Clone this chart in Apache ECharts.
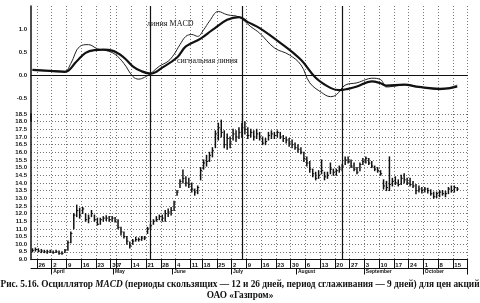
<!DOCTYPE html>
<html><head><meta charset="utf-8">
<script src="https://cdn.jsdelivr.net/npm/echarts/dist/echarts.min.js"></script>
<style>html,body{margin:0;padding:0;background:#fff}#c{width:480px;height:303px}</style>
</head><body><div id="c"></div>
<script>
// Calendar (trading days)
const startDate = '2001-03-22', endDate = '2001-10-19';
const holidays = ['2001-05-01','2001-05-02','2001-05-03','2001-06-12'];
const monthNames = ['January','February','March','April','May','June','July','August','September','October','November','December'];
const yTicksMacd = [-0.5, 0, 0.5, 1.0];

// Price bars (low / high / close), one per trading day
const priceLow = [9.5,9.55,9.5,9.45,9.45,9.4,9.45,9.4,9.45,9.35,9.35,9.45,
 9.6,10.1,11.0,11.8,11.7,12.0,11.5,11.4,11.8,11.5,11.25,11.3,11.5,11.55,11.5,11.5,11.45,11.0,
 10.6,10.4,10.0,9.75,10.0,10.2,10.2,10.25,10.3,10.7,
 11.0,11.3,11.5,11.6,11.5,11.5,11.8,11.9,12.2,13.2,
 13.7,14.0,13.8,13.7,13.4,13.2,13.3,14.2,14.9,15.1,
 15.4,15.7,16.3,16.8,17.0,16.3,16.2,16.3,16.8,16.7,
 16.9,17.0,17.2,16.9,17.0,16.8,16.9,16.8,16.5,16.5,
 16.8,16.9,16.9,17.0,16.9,16.7,16.6,16.4,16.3,16.2,
 16.0,15.9,15.4,15.1,14.7,14.4,14.2,14.3,14.6,14.2,
 14.3,14.6,14.5,14.5,14.7,14.8,15.2,15.3,15.0,14.8,
 14.6,14.8,15.2,15.3,15.2,15.0,14.8,14.7,14.5,13.6,
 13.5,13.5,13.8,13.9,13.8,13.9,14.0,13.9,13.8,13.7,
 13.3,13.4,13.35,13.4,13.35,13.2,13.0,13.05,13.1,13.2,
 13.1,13.3,13.4,13.4,13.5];
const priceHigh = [9.7,9.75,9.7,9.65,9.6,9.6,9.6,9.55,9.6,9.55,9.5,9.65,
 10.2,10.8,12.0,12.55,12.35,12.4,12.0,11.9,12.2,11.9,11.7,11.7,11.8,11.85,11.8,11.8,11.75,11.6,
 11.1,10.8,10.5,10.15,10.3,10.45,10.4,10.5,10.5,11.1,
 11.3,11.6,11.8,11.9,11.9,12.2,12.3,12.4,12.8,13.5,
 14.2,14.85,14.4,14.3,14.0,13.6,13.8,15.0,15.5,15.8,
 16.0,16.3,17.4,17.9,18.1,17.4,17.2,17.0,17.5,17.4,
 17.6,17.9,18.0,17.6,17.5,17.4,17.5,17.3,17.0,16.9,
 17.3,17.4,17.3,17.4,17.3,17.1,17.0,16.9,16.8,16.6,
 16.5,16.3,16.0,15.7,15.4,14.9,14.7,14.8,15.5,14.7,
 14.7,15.3,14.9,14.9,15.1,15.2,15.7,15.7,15.5,15.3,
 15.0,15.3,15.6,15.7,15.6,15.4,15.1,15.0,14.8,14.2,
 14.1,15.7,14.3,14.4,14.2,14.5,14.6,14.3,14.3,14.1,
 13.9,13.8,13.7,13.7,13.65,13.55,13.4,13.4,13.5,13.5,
 13.45,13.7,13.8,13.8,13.7];
const priceClose = [9.6,9.65,9.55,9.55,9.5,9.5,9.55,9.45,9.5,9.4,9.4,9.6,
 10.1,10.7,11.9,12.2,11.9,12.3,11.6,11.7,12.0,11.6,11.3,11.6,11.7,11.7,11.6,11.7,11.5,11.1,
 10.8,10.5,10.2,9.9,10.2,10.3,10.3,10.4,10.4,11.0,
 11.2,11.5,11.6,11.8,11.7,12.0,12.1,12.2,12.7,13.4,
 14.1,14.3,14.0,13.9,13.6,13.4,13.7,14.8,15.3,15.4,
 15.8,16.1,17.2,17.6,17.3,16.5,16.9,16.6,17.2,17.0,
 17.3,17.6,17.5,17.1,17.3,17.0,17.2,17.0,16.6,16.7,
 17.1,17.2,17.1,17.3,17.0,16.9,16.8,16.6,16.5,16.3,
 16.2,16.0,15.6,15.3,14.9,14.6,14.3,14.5,14.8,14.4,
 14.5,14.9,14.7,14.8,14.9,15.1,15.5,15.4,15.1,14.9,
 14.7,15.2,15.4,15.6,15.3,15.1,14.9,14.8,14.6,13.8,
 13.7,13.9,14.1,14.0,13.9,14.3,14.2,14.0,13.9,13.8,
 13.5,13.6,13.5,13.6,13.5,13.3,13.1,13.3,13.4,13.3,
 13.3,13.6,13.5,13.7,13.6];

// MACD line and signal line, read at [trading-day index, value]
const macdLine = [[0,0.11],[4,0.10],[8,0.09],[11,0.08],[13,0.25],[16,0.62],[19,0.66],[22,0.57],[25,0.53],[28,0.45],[31,0.25],[34,-0.03],[36,-0.09],[38,-0.05],[40,0.03],[43,0.19],[46,0.30],[48,0.45],[50,0.66],[52,0.84],[54,0.88],[56,0.84],[58,0.98],[60,1.17],[63,1.38],[66,1.31],[70,1.26],[74,1.05],[77,0.91],[82,0.59],[87,0.44],[91,0.22],[94,-0.17],[98,-0.38],[101,-0.47],[103,-0.43],[106,-0.22],[110,-0.17],[113,-0.10],[115,-0.07],[118,-0.10],[120,-0.26],[124,-0.23],[127,-0.21],[131,-0.26],[135,-0.29],[138,-0.32],[141,-0.28],[144,-0.22]];
const signalLine = [[0,0.11],[6,0.09],[11,0.07],[15,0.30],[18,0.48],[21,0.54],[24,0.55],[27,0.53],[31,0.38],[34,0.19],[37,0.08],[40,0.03],[44,0.16],[49,0.38],[52,0.62],[57,0.79],[61,0.98],[66,1.20],[70,1.26],[73,1.15],[77,1.02],[84,0.70],[91,0.33],[96,-0.06],[101,-0.28],[104,-0.33],[107,-0.30],[110,-0.25],[115,-0.14],[118,-0.18],[120,-0.23],[126,-0.21],[131,-0.26],[138,-0.30],[141,-0.29],[144,-0.25]];

// Crossover marker days (trading-day index)
const crossDays = [40, 71, 105];

// ---- build categories
const days = [];
for (let d = new Date(startDate + 'T00:00:00Z'); d <= new Date(endDate + 'T00:00:00Z'); d.setUTCDate(d.getUTCDate() + 1)) {
  const w = d.getUTCDay();
  if (w === 0 || w === 6) continue;
  const s = d.toISOString().slice(0, 10);
  if (holidays.includes(s)) continue;
  days.push(s);
}
const dow = s => new Date(s + 'T00:00:00Z').getUTCDay();
const isWeekStart = i => i > 0 && dow(days[i]) <= dow(days[i - 1]);
const isMonthStart = i => i > 0 && days[i].slice(5, 7) !== days[i - 1].slice(5, 7);

const bars = priceLow.map((lo, i) => [i, lo, priceHigh[i], priceClose[i]]);

const ink = '#111';
const dotted = { show: true, lineStyle: { color: '#555', width: 0.8, type: [1, 2] } };
const gw = days.length * 2.95;

const chart = echarts.init(document.getElementById('c'), null, { renderer: 'canvas' });
chart.setOption({
  animation: false,
  backgroundColor: '#fff',
  title: [
    { left: 'center', top: 275, text: '{a|Рис. 5.16. Осциллятор }{b|MACD}{a| (периоды скользящих — 12 и 26 дней, период сглаживания — 9 дней) для цен акций}',
      textStyle: { rich: {
        a: { fontFamily: 'Liberation Serif', fontWeight: 'bold', fontSize: 9.3, color: ink },
        b: { fontFamily: 'Liberation Serif', fontWeight: 'bold', fontStyle: 'italic', fontSize: 9.3, color: ink } } } },
    { left: 'center', top: 286, text: 'ОАО «Газпром»',
      textStyle: { fontFamily: 'Liberation Serif', fontWeight: 'bold', fontSize: 9.3, color: ink } }
  ],
  grid: [
    { left: 31, top: 6, width: gw, height: 115 },
    { left: 31, top: 114, width: gw, height: 145.5 }
  ],
  xAxis: [
    { gridIndex: 0, type: 'category', data: days, position: 'top',
      axisLine: { show: true, lineStyle: { color: ink, width: 1 } }, axisTick: { show: false }, axisLabel: { show: false },
      splitLine: Object.assign({ interval: (i) => isWeekStart(i) }, dotted) },
    { gridIndex: 1, type: 'category', data: days, position: 'bottom',
      axisLine: { show: true, lineStyle: { color: ink, width: 1.2 } },
      axisTick: { show: true, interval: (i) => isWeekStart(i), length: 9, lineStyle: { color: ink, width: 1 } },
      axisLabel: { show: true, interval: (i) => isWeekStart(i), formatter: v => String(+v.slice(8)), align: 'left',
        margin: 3, fontSize: 6, fontWeight: 'bold', fontFamily: 'Liberation Sans', color: ink, hideOverlap: false },
      splitLine: Object.assign({ interval: (i) => isWeekStart(i) }, dotted) },
    { gridIndex: 1, type: 'category', data: days, position: 'bottom', offset: 9,
      axisLine: { show: true, lineStyle: { color: ink, width: 1 } },
      axisTick: { show: true, interval: (i) => isMonthStart(i), length: 6, lineStyle: { color: ink, width: 1 } },
      axisLabel: { show: true, interval: (i) => isMonthStart(i), formatter: v => monthNames[+v.slice(5, 7) - 1], align: 'left',
        margin: 1, fontSize: 5, fontWeight: 'bold', fontFamily: 'Liberation Sans', color: ink },
      splitLine: { show: false } }
  ],
  yAxis: [
    { gridIndex: 0, type: 'value', min: -1, max: 1.5, interval: 0.5,
      axisLine: { show: true, lineStyle: { color: ink, width: 1.5 } }, axisTick: { show: false },
      axisLabel: { formatter: v => yTicksMacd.includes(v) ? v.toFixed(1) : '', fontSize: 6, fontWeight: 'bold', fontFamily: 'Liberation Sans', color: ink, margin: 4 },
      splitLine: { show: false } },
    { gridIndex: 1, type: 'value', min: 9, max: 18.5, interval: 0.5,
      axisLine: { show: true, lineStyle: { color: ink, width: 1.5 } }, axisTick: { show: false },
      axisLabel: { formatter: v => v.toFixed(1), fontSize: 6, fontWeight: 'bold', fontFamily: 'Liberation Sans', color: ink, margin: 4 },
      splitLine: dotted }
  ],
  graphic: [
    { type: 'text', left: 147, top: 20, style: { text: 'линия MACD', font: '8px "Liberation Serif"', fill: ink, backgroundColor: '#fff' } },
    { type: 'text', left: 177, top: 57, style: { text: 'сигнальная линия', font: '8px "Liberation Serif"', fill: ink, backgroundColor: '#fff' } }
  ],
  series: [
    { type: 'line', name: 'MACD', xAxisIndex: 0, yAxisIndex: 0, data: macdLine, smooth: 0.4, symbol: 'none',
      lineStyle: { color: '#222', width: 1 },
      markLine: { silent: true, symbol: 'none', label: { show: false },
        data: [{ yAxis: 0, lineStyle: { color: ink, width: 1, type: 'solid' } }]
          .concat(crossDays.map(k => ({ xAxis: days[k], lineStyle: { color: ink, width: 1.2, type: 'solid' } }))) } },
    { type: 'line', name: 'signal', xAxisIndex: 0, yAxisIndex: 0, data: signalLine, smooth: 0.4, symbol: 'none',
      lineStyle: { color: ink, width: 2.2 } },
    { type: 'custom', name: 'price', xAxisIndex: 1, yAxisIndex: 1, data: bars, encode: { x: 0, y: [1, 2, 3] },
      renderItem: (params, api) => {
        const lo = api.coord([api.value(0), api.value(1)]);
        const hi = api.coord([api.value(0), api.value(2)]);
        const cl = api.coord([api.value(0), api.value(3)]);
        return { type: 'group', children: [
          { type: 'line', shape: { x1: lo[0], y1: lo[1] + 0.5, x2: hi[0], y2: hi[1] - 0.5 }, style: { stroke: ink, lineWidth: 1.5 } },
          { type: 'line', shape: { x1: cl[0], y1: cl[1], x2: cl[0] + 1.6, y2: cl[1] }, style: { stroke: ink, lineWidth: 1 } }
        ] };
      } },
    { type: 'line', name: 'marks', xAxisIndex: 1, yAxisIndex: 1, data: priceClose, symbol: 'none', lineStyle: { opacity: 0 },
      markLine: { silent: true, symbol: 'none', label: { show: false },
        data: crossDays.map(k => ({ xAxis: days[k], lineStyle: { color: ink, width: 1.2, type: 'solid' } })) } }
  ]
});
</script></body></html>
